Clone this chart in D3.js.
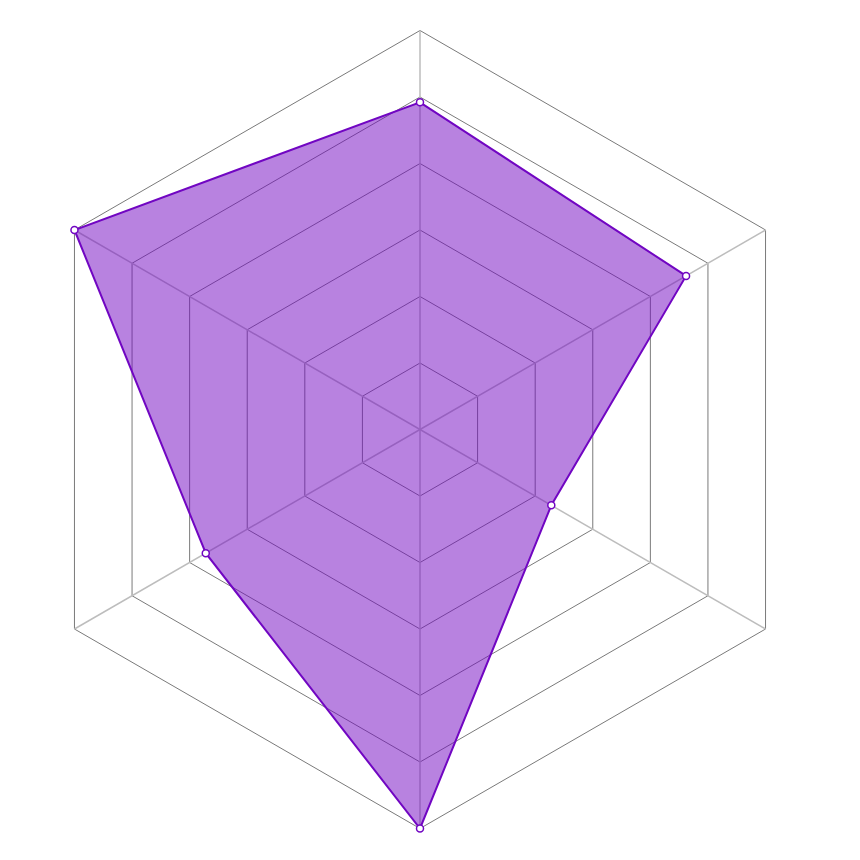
<!DOCTYPE html>
<html><head><meta charset="utf-8">
<script src="https://cdn.jsdelivr.net/npm/d3@7"></script>
<style>html,body{margin:0;padding:0;background:#fff;}</style>
</head><body>
<svg id="c" width="860" height="860"></svg>
<script>
const axes = ["A", "B", "C", "D", "E", "F"];
const values = [82, 77, 38, 100, 62, 100];
const levels = [1, 2, 3, 4, 5, 6];
const maxValue = 100;

const cx = 420, cy = 429.5, R = 399;
const svg = d3.select("#c");
const g = svg.append("g").attr("transform", `translate(${cx},${cy})`);
const r = d3.scaleLinear().domain([0, maxValue]).range([0, R]);
const lvl = d3.scaleLinear().domain([0, levels.length]).range([0, R]);
const angle = i => (Math.PI * 2 * i) / axes.length;
const radial = d3.lineRadial().angle((d, i) => angle(i)).radius(d => d).curve(d3.curveLinearClosed);

// rings
g.selectAll("path.ring").data(levels).join("path")
  .attr("class", "ring")
  .attr("d", l => radial(axes.map(() => lvl(l))))
  .attr("fill", "none").attr("stroke", "#7a7a7a").attr("stroke-width", 1);

// spokes
g.selectAll("line.spoke").data(axes).join("line")
  .attr("class", "spoke")
  .attr("x1", 0).attr("y1", 0)
  .attr("x2", (d, i) => R * Math.sin(angle(i)))
  .attr("y2", (d, i) => -R * Math.cos(angle(i)))
  .attr("stroke", "#bdbdbd").attr("stroke-width", 1.5);

// data polygon
g.append("path")
  .attr("d", radial(values.map(v => r(v))))
  .attr("fill", "#7106c2").attr("fill-opacity", 0.5)
  .attr("stroke", "#7106c2").attr("stroke-width", 2);

g.selectAll("circle.pt").data(values).join("circle")
  .attr("class", "pt")
  .attr("cx", (d, i) => r(d) * Math.sin(angle(i)))
  .attr("cy", (d, i) => -r(d) * Math.cos(angle(i)))
  .attr("r", 3.5)
  .attr("fill", "#fff").attr("stroke", "#7106c2").attr("stroke-width", 1.5);
</script>
</body></html>
